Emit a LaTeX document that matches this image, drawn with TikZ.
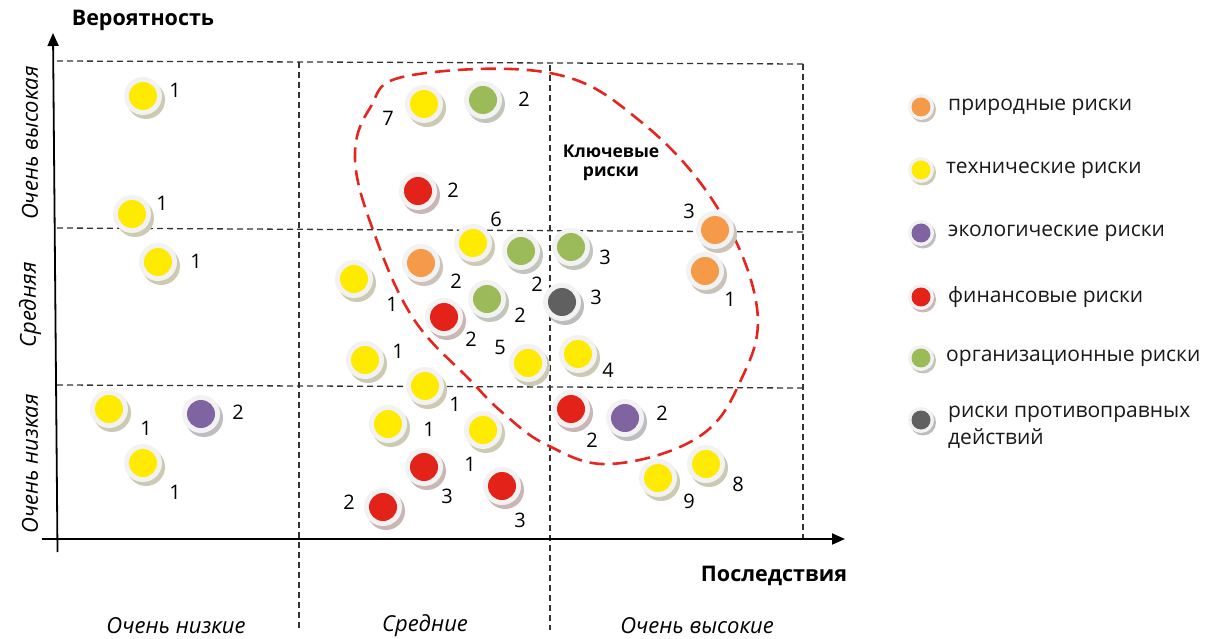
\documentclass[tikz,border=0pt]{standalone}
\usepackage{fontspec}
\setmainfont{Open Sans}
\usetikzlibrary{arrows.meta}
\definecolor{cyel}{HTML}{FFEB00}
\definecolor{cgrn}{HTML}{9BBB59}
\definecolor{cred}{HTML}{E3231A}
\definecolor{corg}{HTML}{F59A48}
\definecolor{cpur}{HTML}{8064A2}
\definecolor{cgry}{HTML}{606060}
\definecolor{ringc}{HTML}{F2F2F2}
\definecolor{keyred}{HTML}{E52620}
\newcommand\riskdot[4]{%
  \fill[#4!20!gray!50!white] (#2+3,#3+4) circle (19pt);
  \node[ring] (#1) at (#2,#3) {};
  \fill[#4] (#1.center) circle (14pt);
}
\newcommand\legdot[4]{%
  \fill[#4!20!gray!50!white] (#2+2,#3+2.5) circle (13pt);
  \node[legring] (#1) at (#2,#3) {};
  \fill[#4] (#1.center) circle (9.5pt);
}
\begin{document}
\begin{tikzpicture}[x=1pt,y=-1pt,
  ring/.style={circle, fill=ringc, minimum size=38pt, inner sep=0pt},
  legring/.style={circle, fill=ringc, minimum size=26pt, inner sep=0pt},
  numlab/.style={font=\fontsize{20}{22}\selectfont, inner sep=0pt},
  legtxt/.style={font=\fontsize{21}{27}\selectfont, anchor=west, inner sep=0pt, align=left, text=black!90},
  axtitle/.style={font=\fontsize{21.5}{24}\selectfont\bfseries, inner sep=0pt},
  ticklab/.style={font=\fontsize{22}{24}\selectfont\itshape, inner sep=0pt},
  grid/.style={dash pattern=on 6pt off 4pt, line width=1.3pt, black!80},
  axis/.style={line width=1.8pt, black},
  keyline/.style={line width=2.6pt, keyred, dash pattern=on 15pt off 8pt}]
\useasboundingbox (0,0) rectangle (1210,639);
\fill[white] (0,0) rectangle (1210,639);

% grid
\coordinate (h1a) at (57,61);  \coordinate (h1b) at (803,64);
\coordinate (h2a) at (57,228); \coordinate (h2b) at (803,232);
\coordinate (h3a) at (57,385); \coordinate (h3b) at (803,388);
\coordinate (v1a) at (299,62); \coordinate (v1b) at (299,630);
\coordinate (v2a) at (550,65); \coordinate (v2b) at (550,630);
\coordinate (v3a) at (803,64); \coordinate (v3b) at (803,539);
\draw[grid] (h1a) -- (h1b);
\draw[grid] (h2a) -- (h2b);
\draw[grid] (h3a) -- (h3b);
\draw[grid] (v1a) -- (v1b);
\draw[grid] (v2a) -- (v2b);
\draw[grid] (v3a) -- (v3b);

% axes
\coordinate (yb) at (57.5,552); \coordinate (yt) at (53,33);
\coordinate (xl) at (42,539);   \coordinate (xr) at (845,539);
\draw[axis, -{Triangle[length=13pt,width=11pt]}] (yb) -- (yt);
\draw[axis, -{Triangle[length=13pt,width=11pt]}] (xl) -- (xr);

\node[axtitle] (ytitle) at (143,20) {Вероятность};
\node[axtitle] (xtitle) at (774,576) {Последствия};

\node[ticklab, rotate=90] (yt1) at (30,143) {Очень высокая};
\node[ticklab, rotate=90] (yt2) at (30,305) {Средняя};
\node[ticklab, rotate=90] (yt3) at (30,464) {Очень низкая};
\node[ticklab] (xt1) at (176,626) {Очень низкие};
\node[ticklab] (xt2) at (425,626) {Средние};
\node[ticklab] (xt3) at (697,626) {Очень высокие};

% key-risk region
\draw[keyline] plot[smooth cycle, tension=0.65] coordinates {
 (407,76) (550,73) (640,121) (717,207) (757,308) (740,382) (697,438)
 (610,464) (547,445) (503,413) (470,380) (413,318) (373,230) (355,158) (370,108)};
\node[font=\fontsize{17.5}{19}\selectfont\bfseries, align=center, inner sep=0pt] (key) at (611,163) {Ключевые\\риски};

% dots
\riskdot{d1}{143}{96}{cyel}   \node[numlab] (n1) at (175,90) {1};
\riskdot{d2}{132}{214}{cyel}  \node[numlab] (n2) at (162,203) {1};
\riskdot{d3}{158}{262}{cyel}  \node[numlab] (n3) at (196,261) {1};
\riskdot{d4}{109}{409}{cyel}  \node[numlab] (n4) at (146,428) {1};
\riskdot{d5}{201}{414}{cpur}  \node[numlab] (n5) at (238,412) {2};
\riskdot{d6}{143}{463}{cyel}  \node[numlab] (n6) at (175,492) {1};

\riskdot{d7}{424}{104}{cyel}  \node[numlab] (n7) at (388,118) {7};
\riskdot{d8}{483}{100}{cgrn}  \node[numlab] (n8) at (524,99) {2};
\riskdot{d9}{418}{191}{cred}  \node[numlab] (n9) at (453,190) {2};
\riskdot{d10}{473}{243}{cyel} \node[numlab] (n10) at (496,219) {6};
\riskdot{d11}{521}{251}{cgrn} \node[numlab] (n11) at (537,284) {2};
\riskdot{d12}{571}{247}{cgrn} \node[numlab] (n12) at (605,257) {3};
\riskdot{d13}{421}{263}{corg} \node[numlab] (n13) at (456,281) {2};
\riskdot{d14}{354}{279}{cyel} \node[numlab] (n14) at (392,304) {1};
\riskdot{d15}{487}{299}{cgrn} \node[numlab] (n15) at (520,315) {2};
\riskdot{d16}{562}{302}{cgry} \node[numlab] (n16) at (596,297) {3};
\riskdot{d17}{444}{317}{cred} \node[numlab] (n17) at (471,339) {2};
\riskdot{d18}{365}{360}{cyel} \node[numlab] (n18) at (398,351) {1};
\riskdot{d19}{528}{363}{cyel} \node[numlab] (n19) at (500,347) {5};
\riskdot{d20}{578}{354}{cyel} \node[numlab] (n20) at (608,370) {4};
\riskdot{d21}{425}{386}{cyel} \node[numlab] (n21) at (455,404) {1};
\riskdot{d22}{388}{424}{cyel} \node[numlab] (n22) at (429,429) {1};
\riskdot{d23}{483}{430}{cyel} \node[numlab] (n23) at (470,464) {1};
\riskdot{d24}{424}{467}{cred} \node[numlab] (n24) at (447,496) {3};
\riskdot{d25}{502}{486}{cred} \node[numlab] (n25) at (520,520) {3};
\riskdot{d26}{383}{507}{cred} \node[numlab] (n26) at (349,502) {2};

\riskdot{d27}{715}{230}{corg} \node[numlab] (n27) at (689,211) {3};
\riskdot{d28}{705}{271}{corg} \node[numlab] (n28) at (730,299) {1};
\riskdot{d29}{571}{409}{cred} \node[numlab] (n29) at (592,440) {2};
\riskdot{d30}{625}{418}{cpur} \node[numlab] (n30) at (662,413) {2};
\riskdot{d31}{658}{478}{cyel} \node[numlab] (n31) at (689,501) {9};
\riskdot{d32}{706}{464}{cyel} \node[numlab] (n32) at (738,484) {8};

% legend
\legdot{l1}{921}{107}{corg} \node[legtxt] (t1) at (948,107) {природные риски};
\legdot{l2}{921}{170}{cyel} \node[legtxt] (t2) at (946,170) {технические риски};
\legdot{l3}{921}{233}{cpur} \node[legtxt] (t3) at (948,233) {экологические риски};
\legdot{l4}{921}{297}{cred} \node[legtxt] (t4) at (948,297) {финансовые риски};
\legdot{l5}{921}{358}{cgrn} \node[legtxt] (t5) at (946,358) {организационные риски};
\legdot{l6}{921}{420}{cgry} \node[legtxt, anchor=north west] (t6) at (948,406) {риски противоправных\\действий};
\end{tikzpicture}
\end{document}
